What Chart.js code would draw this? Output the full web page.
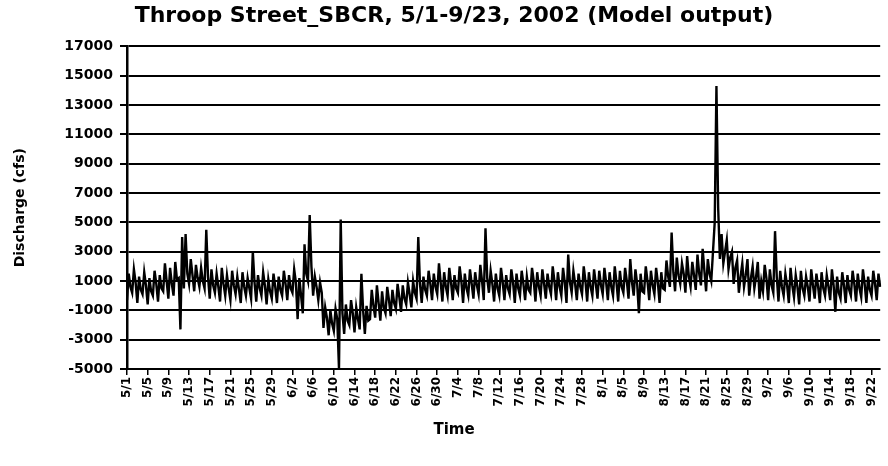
<!DOCTYPE html>
<html>
<head>
<meta charset="utf-8">
<title>Throop Street_SBCR discharge</title>
<script src="https://cdn.jsdelivr.net/npm/chart.js@4.4.1/dist/chart.umd.min.js"></script>
<style>
  html, body { margin: 0; padding: 0; background: #fff; }
  #wrap { width: 888px; height: 466px; }
</style>
</head>
<body>
<div id="wrap"><canvas id="chart" width="888" height="466"></canvas></div>
<script>
// discharge (cfs), three readings per day
var may = [
  -300, 1500, 600,   200, 1800, 900,   -500, 1300, 400,   100, 1600, 700,
  -600, 1200, 300,   0, 1700, 800,     -400, 1400, 500,   300, 2200, 1000,
  -200, 1900, 800,   0, 2300, 1100,    1200, -2300, 4000, 500, 4200, 1500,
  800, 2500, 1400,   300, 2100, 1200,  600, 1900, 1000,   500, 4500, 1300,
  -200, 1800, 700,   200, 1500, 600,   -400, 1900, 800,   0, 1400, 500,
  -300, 1700, 700,   100, 1300, 400,   -500, 1600, 600,   0, 1200, 500,
  -200, 3000, 900,   -400, 1400, 500,  0, 1600, 700,      -600, 1100, 300,
  -200, 1500, 600,   -500, 1300, 400,  0, 1700, 800
];
var june = [
  -300, 1400, 500,   200, 1800, 900,   -1600, 1200, 0,    -1200, 3500, 1500,
  1000, 5500, 2000,  0, 1300, 600,     -300, 900, 200,    -2200, -800, -1500,
  -2700, -1000, -1900, -2400, -900, -1600, -5000, 5200, -1200, -2600, -600, -1700,
  -2000, -300, -1200, -2500, -800, -1600, -2300, 1500, -1000, -2600, -700, -1700,
  -1600, 400, -700,  -1500, 700, -500, -1700, 300, -800,  -1200, 600, -300,
  -1400, 400, -500,  -900, 800, -100,  -1100, 700, -200,  -600, 900, 100,
  -800, 1000, 200,   -200, 4000, 800,  -500, 1300, 400,   0, 1700, 800,
  -300, 1500, 600,   100, 2200, 900
];
var july = [
  -400, 1600, 600,   0, 1900, 900,     -300, 1400, 500,   200, 2000, 1000,
  -500, 1500, 500,   0, 1800, 800,     -200, 1600, 700,   100, 2100, 1000,
  -300, 4600, 1200,  200, 1700, 800,   -400, 1500, 500,   0, 1900, 900,
  -300, 1400, 500,   100, 1800, 900,   -500, 1500, 500,   0, 1700, 800,
  -300, 1300, 400,   200, 1900, 1000,  -400, 1600, 600,   0, 1800, 800,
  -200, 1500, 600,   100, 2000, 1000,  -300, 1600, 600,   0, 1900, 900,
  -500, 2800, 900,   200, 1700, 800,   -300, 1500, 600,   100, 2000, 1000,
  -400, 1600, 600,   0, 1800, 800,     -200, 1700, 700
];
var august = [
  100, 1900, 900,    -300, 1600, 600,  0, 2000, 900,      -400, 1700, 600,
  200, 1900, 1000,   -200, 2500, 900,  0, 1800, 800,      -1200, 1500, 300,
  200, 2000, 1000,   -300, 1700, 700,  100, 1900, 900,    -500, 1600, 500,
  400, 2400, 1300,   600, 4300, 1600,  300, 2600, 1400,   800, 2200, 1500,
  200, 2700, 1300,   600, 2300, 1400,  400, 2800, 1500,   700, 3200, 1700,
  300, 2500, 1500,   1000, 3000, 5000, 14300, 6000, 2500, 4200, 2200, 3000,
  3800, 1800, 2600,  3000, 800, 1900,  2400, 200, 1300,   2200, 600, 1400,
  2500, 0, 1200,     2000, 500, 1300,  2300, -200, 1000
];
var september = [
  300, 2100, 1200,   -300, 1800, 700,  200, 4400, 1300,   -400, 1700, 600,
  0, 1500, 700,      -500, 1900, 700,  -100, 1400, 600,   -600, 1700, 500,
  0, 1300, 600,      -400, 1800, 700,  -200, 1500, 600,   -500, 1600, 500,
  0, 1400, 600,      -300, 1800, 700,  -1100, 1300, 200,  -200, 1600, 700,
  -500, 1400, 400,   0, 1700, 800,     -400, 1500, 500,   -100, 1800, 800,
  -500, 1300, 400,   0, 1700, 800,     -300, 1500, 600
];
var tickLabels = ['5/1', '5/5', '5/9', '5/13', '5/17', '5/21', '5/25', '5/29',
  '6/2', '6/6', '6/10', '6/14', '6/18', '6/22', '6/26', '6/30',
  '7/4', '7/8', '7/12', '7/16', '7/20', '7/24', '7/28',
  '8/1', '8/5', '8/9', '8/13', '8/17', '8/21', '8/25', '8/29',
  '9/2', '9/6', '9/10', '9/14', '9/18', '9/22'];
var yTicks = [17000, 15000, 13000, 11000, 9000, 7000, 5000, 3000, 1000, -1000, -3000, -5000];

var discharge = may.concat(june, july, august, september);
var perDay = 3;
var labels = discharge.map(function(v, i) {
  var d = new Date(2002, 4, 1 + Math.floor(i / perDay));
  return (d.getMonth() + 1) + '/' + d.getDate() + ' ' + (i % perDay) * 8 + ':00';
});

Chart.defaults.font.family = 'DejaVu Sans';
Chart.defaults.font.weight = 'bold';
Chart.defaults.color = '#000';

new Chart(document.getElementById('chart'), {
  type: 'line',
  data: {
    labels: labels,
    datasets: [{
      label: 'Discharge',
      data: discharge,
      borderColor: '#000',
      borderWidth: 2.4,
      pointRadius: 0,
      tension: 0,
      fill: false
    }]
  },
  options: {
    responsive: false,
    animation: false,
    // extra left padding pushes the centred titles right, like the original
    layout: { padding: { left: 24, right: 4, top: 0, bottom: 0 } },
    plugins: {
      legend: { display: false },
      tooltip: { enabled: false },
      title: {
        display: true,
        text: 'Throop Street_SBCR, 5/1-9/23, 2002 (Model output)',
        font: { size: 22, weight: 'bold' },
        padding: { top: 3, bottom: 17 }
      },
      subtitle: {
        display: true,
        position: 'bottom',
        text: 'Time',
        font: { size: 15, weight: 'bold' },
        padding: { top: 0, bottom: 27 }
      }
    },
    scales: {
      x: {
        type: 'category',
        afterFit: function(scale) { scale.height = 52; },
        grid: {
          display: true,
          drawOnChartArea: false,
          drawTicks: true,
          tickLength: 6,
          color: '#000',
          lineWidth: 1.5
        },
        border: { display: true, color: '#000', width: 2 },
        ticks: {
          autoSkip: false,
          minRotation: 90,
          maxRotation: 90,
          padding: 2,
          font: { size: 12, weight: 'bold' },
          callback: function(value, index) {
            return index % (4 * perDay) === 0 ? tickLabels[index / (4 * perDay)] : null;
          }
        }
      },
      y: {
        min: yTicks[yTicks.length - 1],
        max: yTicks[0],
        afterFit: function(scale) { scale.width = 103; },
        afterBuildTicks: function(scale) {
          scale.ticks = yTicks.slice().reverse().map(function(v) { return { value: v }; });
        },
        grid: { color: '#000', lineWidth: 2, tickLength: 7 },
        border: { display: true, color: '#000', width: 2.5 },
        ticks: {
          padding: 7,
          font: { size: 14, weight: 'bold' },
          callback: function(value) { return String(value); }
        },
        title: {
          display: true,
          text: 'Discharge (cfs)',
          font: { size: 14, weight: 'bold' },
          padding: { top: -12, bottom: 0 }
        }
      }
    }
  }
});
</script>
</body>
</html>
